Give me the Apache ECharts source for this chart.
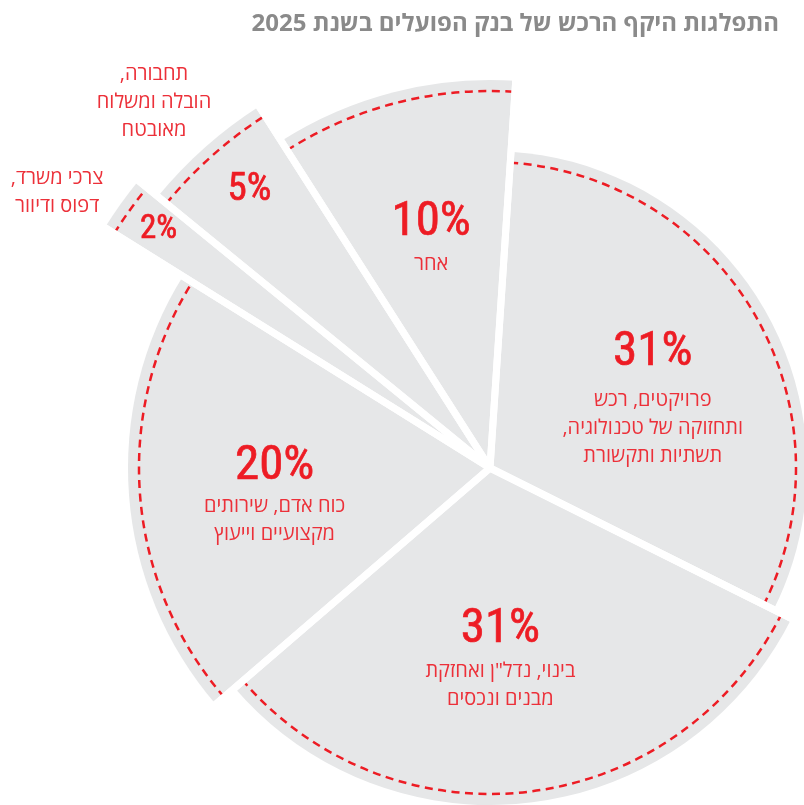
<!DOCTYPE html>
<html><head><meta charset="utf-8">
<script src="https://cdn.jsdelivr.net/npm/echarts@6/dist/echarts.min.js"></script>
<style>html,body{margin:0;padding:0;background:#fff}#c{width:804px;height:805px}</style>
</head><body><div id="c"></div>
<script>
// ---- data ----
const chartTitle = 'התפלגות היקף הרכש של בנק הפועלים בשנת 2025';
const categories = [
  ['פרויקטים, רכש', 'ותחזוקה של טכנולוגיה,', 'תשתיות ותקשורת'],
  ['בינוי, נדל"ן ואחזקת', 'מבנים ונכסים'],
  ['כוח אדם, שירותים', 'מקצועיים וייעוץ'],
  ['צרכי משרד,', 'דפוס ודיוור'],
  ['תחבורה,', 'הובלה ומשלוח', 'מאובטח'],
  ['אחר']
];
const values = [31, 31, 20, 2, 5, 10];
const valueLabels = ['31%', '31%', '20%', '2%', '5%', '10%'];

// ---- style ----
const RED = '#ed1c24';
const RED_TEXT = '#ec3039';
const GRAY = '#e6e7e8';
const FONT = 'Open Sans';
const NUM_FONT = '"Liberation Sans Narrow", "Roboto Condensed", "DejaVu Sans Condensed", Roboto';
const CENTER = [490, 468];
const START_ANGLE = 86.2;
const outerR = [317, 337, 362, 454, 429, 388];
const DASH_INSET = 11;
// label placement along the slice mid-angle (r) plus a small shift
const labelCfg = [
  {r: 180, sx: 4, sy: 18, size: 49, lh: 66, names: 'in'},
  {r: 186, sx: -13, sy: 2, size: 49, lh: 56, names: 'in'},
  {r: 216, sx: 3, sy: 10, size: 49, lh: 52, names: 'in'},
  {r: 406, sx: 1, sy: 0, size: 33, lh: 40, names: 'out', nr: 511, nsx: -15, nsy: 24},
  {r: 365, sx: 4, sy: -3, size: 39, lh: 44, names: 'out', nr: 495, nsx: -5, nsy: 6},
  {r: 242, sx: 2, sy: 6, size: 49, lh: 56, names: 'in'}
];

const TRANSPARENT = 'rgba(0,0,0,0)';
function pad(sx, sy) {
  return [Math.max(0, 2 * sy), Math.max(0, -2 * sx), Math.max(0, -2 * sy), Math.max(0, 2 * sx)];
}
function itemsFor(i, style, labelOpt) {
  return values.map((v, j) => ({
    value: v,
    name: 'c' + j,
    itemStyle: j === i ? style : {color: TRANSPARENT, borderWidth: 0},
    label: (j === i && labelOpt) ? labelOpt : {show: false}
  }));
}
const base = {
  type: 'pie', center: CENTER, startAngle: START_ANGLE, clockwise: true,
  silent: true, animation: false, avoidLabelOverlap: false,
  label: {show: false}, labelLine: {show: false}, emphasis: {disabled: true}
};
function rtl(s) { return s + '\u200F'; }

const series = [];
// grey slices
values.forEach((v, i) => {
  series.push(Object.assign({}, base, {z: 1, radius: [0, outerR[i]],
    data: itemsFor(i, {color: GRAY, borderWidth: 0})}));
});
// dashed arcs
values.forEach((v, i) => {
  series.push(Object.assign({}, base, {z: 2, radius: [0, outerR[i] - DASH_INSET],
    data: itemsFor(i, {color: TRANSPARENT, borderColor: RED, borderWidth: 2.5, borderType: [8, 5.5]})}));
});
// white gaps between slices
series.push(Object.assign({}, base, {z: 3, radius: [0, 465],
  data: values.map((v, j) => ({value: v, name: 'g' + j,
    itemStyle: {color: TRANSPARENT, borderColor: '#ffffff', borderWidth: 7, borderJoin: 'round'}}))}));
// labels
values.forEach((v, i) => {
  const c = labelCfg[i];
  const richI = {
    n: {fontFamily: NUM_FONT, fontWeight: 'normal', color: RED, fontSize: c.size, lineHeight: c.lh,
        textBorderColor: RED, textBorderWidth: 0.7},
    t: {fontFamily: FONT, fontSize: 20, color: RED_TEXT, lineHeight: 28}
  };
  let text = '{n|' + valueLabels[i] + '}';
  if (c.names === 'in') text += '\n' + categories[i].map(l => '{t|' + rtl(l) + '}').join('\n');
  series.push(Object.assign({}, base, {z: 4, radius: [0, 2 * c.r],
    data: itemsFor(i, {color: TRANSPARENT, borderWidth: 0},
      {show: true, position: 'inside', rotate: 0, overflow: 'none', padding: pad(c.sx, c.sy),
       formatter: text, rich: richI})}));
  if (c.names === 'out') {
    const t2 = categories[i].map(l => '{t|' + rtl(l) + '}').join('\n');
    series.push(Object.assign({}, base, {z: 4, radius: [0, 2 * c.nr],
      data: itemsFor(i, {color: TRANSPARENT, borderWidth: 0},
        {show: true, position: 'inside', rotate: 0, overflow: 'none', padding: pad(c.nsx, c.nsy),
         formatter: t2, rich: richI})}));
  }
});

const chart = echarts.init(document.getElementById('c'), null, {renderer: 'canvas'});
chart.setOption({
  backgroundColor: '#ffffff',
  animation: false,
  title: {text: chartTitle, right: 20, top: 7,
    textStyle: {color: '#8a8a8a', fontSize: 24, fontWeight: 'bold', fontFamily: FONT}},
  series: series
});
</script></body></html>
